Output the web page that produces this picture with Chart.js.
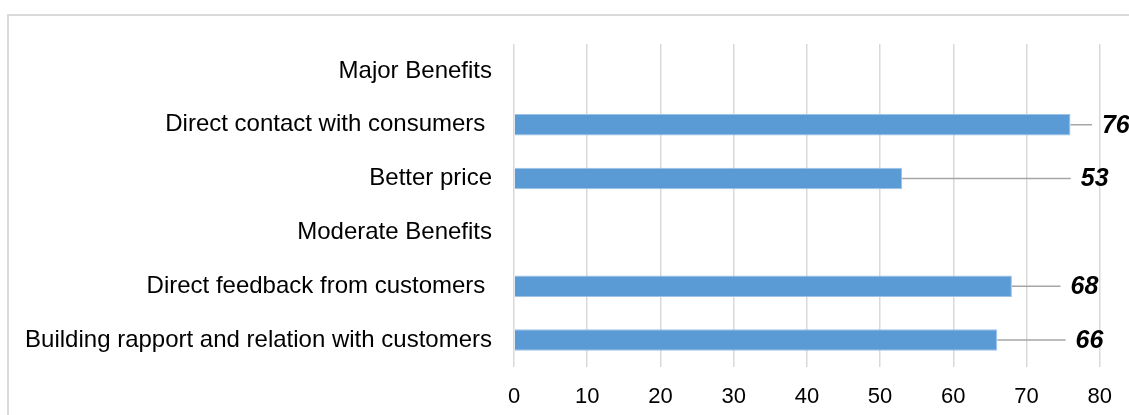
<!DOCTYPE html>
<html>
<head>
<meta charset="utf-8">
<script src="https://cdn.jsdelivr.net/npm/chart.js@4.4.1/dist/chart.umd.min.js"></script>
<style>
  html, body { margin: 0; padding: 0; background: #ffffff; overflow: hidden; }
  #wrap { position: relative; width: 1129px; height: 415px; }
  #frame { position: absolute; left: 7px; top: 14px; width: 3000px; height: 3000px;
           border: 2px solid #d9d9d9; box-sizing: border-box; }
  canvas { position: absolute; left: 0; top: 0; }
</style>
</head>
<body>
<div id="wrap">
  <div id="frame"></div>
  <canvas id="c" width="1129" height="415"></canvas>
</div>
<script>
// ---- data ----
const categories = [
  "Major Benefits",
  "Direct contact with consumers ",
  "Better price",
  "Moderate Benefits",
  "Direct feedback from customers ",
  "Building rapport and relation with customers"
];
const values = [null, 76, 53, null, 68, 66];
const xTicks = [0, 10, 20, 30, 40, 50, 60, 70, 80];

// ---- leader lines + value labels ----
const leaderPlugin = {
  id: 'leaderLabels',
  afterDatasetsDraw(chart, args, opts) {
    const ctx = chart.ctx;
    const xs = chart.scales.x;
    const meta = chart.getDatasetMeta(0);
    ctx.save();
    meta.data.forEach((bar, i) => {
      const v = values[i];
      if (v === null || v === undefined) return;
      const y = bar.y;
      const labelLeft = xs.getPixelForValue(opts.labelAt[i]);
      const lineEnd = labelLeft - 10;
      ctx.strokeStyle = '#a6a6a6';
      ctx.lineWidth = 1.5;
      ctx.beginPath();
      ctx.moveTo(bar.x, y);
      ctx.lineTo(lineEnd, y);
      ctx.stroke();
      ctx.fillStyle = '#000000';
      ctx.font = 'italic bold 25px "Liberation Sans", Arial, sans-serif';
      ctx.textAlign = 'left';
      ctx.textBaseline = 'middle';
      ctx.fillText(String(v), labelLeft, y + 1);
    });
    ctx.restore();
  }
};

new Chart(document.getElementById('c'), {
  type: 'bar',
  data: {
    labels: categories,
    datasets: [{
      data: values,
      backgroundColor: '#5b9bd5',
      borderColor: '#9cc2e8',
      borderWidth: 1,
      barPercentage: 0.8,
      categoryPercentage: 0.5
    }]
  },
  options: {
    indexAxis: 'y',
    responsive: false,
    animation: false,
    devicePixelRatio: 1,
    layout: { padding: { top: 44, right: 29, bottom: 0, left: 0 } },
    plugins: {
      legend: { display: false },
      tooltip: { enabled: false },
      leaderLabels: { labelAt: [null, 80.3, 77.4, null, 76.0, 76.7] }
    },
    scales: {
      x: {
        position: 'bottom',
        min: 0,
        max: 80,
        afterBuildTicks(scale) { scale.ticks = xTicks.map(v => ({ value: v })); },
        afterFit(scale) { scale.height = 48; },
        grid: { color: '#d9d9d9', lineWidth: 1.5, drawTicks: false },
        border: { display: false },
        ticks: {
          padding: 17,
          color: '#000000',
          font: { family: '"Liberation Sans", Arial, sans-serif', size: 22 }
        }
      },
      y: {
        afterFit(scale) { scale.width = 514; },
        grid: { display: false, drawTicks: false },
        border: { display: false },
        ticks: {
          padding: 22,
          color: '#000000',
          font: { family: '"Liberation Sans", Arial, sans-serif', size: 24 }
        }
      }
    }
  },
  plugins: [leaderPlugin]
});
</script>
</body>
</html>
